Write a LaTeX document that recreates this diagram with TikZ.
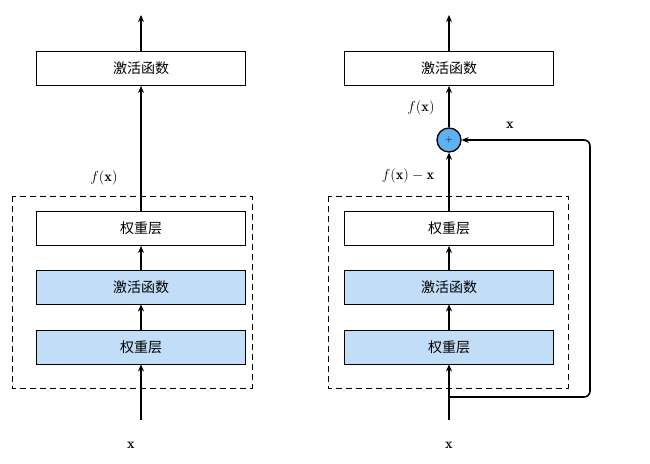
\documentclass[tikz,border=0pt]{standalone}
\usepackage{fontspec}
\newfontfamily\cjk{Noto Sans CJK SC}
\usetikzlibrary{arrows.meta}
\definecolor{lb}{HTML}{C2DDF8}
\definecolor{cb}{HTML}{5FB0F2}
\begin{document}
\begin{tikzpicture}[x=1pt,y=-1pt,
  box/.style={draw,line width=0.9pt,minimum width=209pt,minimum height=34pt,font=\cjk\fontsize{14}{16}\selectfont,inner sep=0pt},
  blue/.style={box,fill=lb},
  arr/.style={-{Stealth[length=7pt,width=6pt]},line width=1.6pt},
  dbox/.style={draw,line width=1pt,dash pattern=on 6pt off 4pt},
  lab/.style={font=\Large}]
\useasboundingbox (0,0) rectangle (650,463);
% left
\draw[dbox] (12,196) rectangle (252,388);
\node[box] (la) at (141,68.5) {激活函数};
\node[box] (lw) at (141,228.5) {权重层};
\node[blue] (lac) at (141,287) {激活函数};
\node[blue] (lw2) at (141,347) {权重层};
\coordinate (ltop) at (141,15);
\coordinate (lbot) at (141,420);
\node[lab] (lx) at (131,445) {$\mathbf{x}$};
\node[lab] (lf) at (104,178) {$f(\mathbf{x})$};
\draw[arr] (la) -- (ltop);
\draw[arr] (lw) -- (la);
\draw[arr] (lac) -- (lw);
\draw[arr] (lw2) -- (lac);
\draw[arr] (lbot) -- (lw2);
% right
\draw[dbox] (328,196) rectangle (568,388);
\node[box] (ra) at (449,68.5) {激活函数};
\node[box] (rw) at (449,228.5) {权重层};
\node[blue] (rac) at (449,287) {激活函数};
\node[blue] (rw2) at (449,347) {权重层};
\node[circle,draw,line width=1.3pt,fill=cb,minimum size=24pt,inner sep=0pt,font=\fontsize{10}{10}\selectfont] (p) at (449,140) {+};
\coordinate (rtop) at (449,15);
\coordinate (rbot) at (449,420);
\coordinate (rs) at (449,397);
\coordinate (rr) at (590,397);
\coordinate (rt) at (590,140);
\node[lab] (rx) at (449,445) {$\mathbf{x}$};
\node[lab] (rf) at (421,108) {$f(\mathbf{x})$};
\node[lab] (rfx) at (408,176) {$f(\mathbf{x})-\mathbf{x}$};
\node[lab] (sx) at (510,125) {$\mathbf{x}$};
\draw[arr] (ra) -- (rtop);
\draw[arr] (p) -- (ra);
\draw[arr] (rw) -- (p);
\draw[arr] (rac) -- (rw);
\draw[arr] (rw2) -- (rac);
\draw[arr] (rbot) -- (rw2);
\draw[arr,rounded corners=6pt] (rs) -- (rr) -- (rt) -- (p);
\end{tikzpicture}
\end{document}
